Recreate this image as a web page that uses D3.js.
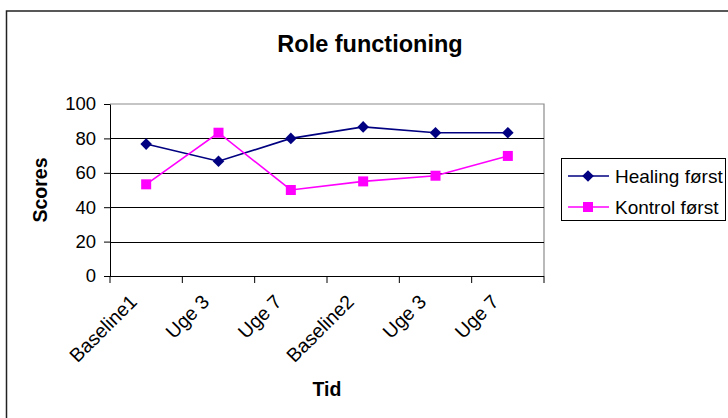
<!DOCTYPE html>
<html>
<head>
<meta charset="utf-8">
<script src="https://cdn.jsdelivr.net/npm/d3@7"></script>
<style>
  html, body { margin: 0; padding: 0; background: #fff; }
  svg { display: block; font-family: Arial, "Liberation Sans", sans-serif; }
</style>
</head>
<body>
<svg id="chart" width="728" height="418"></svg>
<script>
// Role functioning scores by time point
const categories = ["Baseline1", "Uge 3", "Uge 7", "Baseline2", "Uge 3", "Uge 7"];
const healingFirst = [76.7, 66.7, 80.0, 86.7, 83.3, 83.3];
const controlFirst = [53.3, 83.3, 50.0, 55.0, 58.3, 69.8];
const yTicks = [0, 20, 40, 60, 80, 100];
const seriesNames = ["Healing først", "Kontrol først"];

const svg = d3.select("#chart");
const plot = { left: 110, right: 544, top: 104, bottom: 276 };

// outer chart frame (extends past the right and bottom edges)
svg.append("rect")
  .attr("x", 6.5).attr("y", 11)
  .attr("width", 760).attr("height", 440)
  .attr("fill", "#fff")
  .attr("stroke", "#222").attr("stroke-width", 1.5);

const x = d3.scaleBand()
  .domain(d3.range(categories.length))
  .range([plot.left, plot.right])
  .paddingInner(0).paddingOuter(0);

const y = d3.scaleLinear().domain([0, 100]).range([plot.bottom, plot.top]);

// plot area border (top and right in grey)
svg.append("path")
  .attr("d", `M${plot.left},${plot.top}H${plot.right}V${plot.bottom}`)
  .attr("fill", "none").attr("stroke", "#8c8c8c").attr("stroke-width", 1.2);

// horizontal gridlines
svg.append("g")
  .selectAll("line")
  .data(yTicks.filter(t => t > 0 && t < 100))
  .join("line")
  .attr("x1", plot.left).attr("x2", plot.right)
  .attr("y1", d => Math.round(y(d)) + 0.5).attr("y2", d => Math.round(y(d)) + 0.5)
  .attr("stroke", "#000").attr("stroke-width", 1);

// y axis
const yAxis = svg.append("g")
  .attr("transform", `translate(${plot.left},0)`)
  .call(d3.axisLeft(y).tickValues(yTicks).tickSize(6).tickPadding(8).tickSizeOuter(0));
yAxis.select(".domain").attr("stroke", "#000");
yAxis.selectAll(".tick line").attr("stroke", "#000");
yAxis.selectAll(".tick text")
  .attr("font-size", 18.5).attr("fill", "#000")
  .attr("font-family", "Arial, 'Liberation Sans', sans-serif");

// x axis with ticks at category boundaries
const boundaries = d3.range(categories.length + 1).map(i => plot.left + i * x.bandwidth());
const xAxisG = svg.append("g");
xAxisG.append("line")
  .attr("x1", plot.left).attr("x2", plot.right)
  .attr("y1", plot.bottom + 0.5).attr("y2", plot.bottom + 0.5)
  .attr("stroke", "#000");
xAxisG.selectAll("line.tk")
  .data(boundaries)
  .join("line").attr("class", "tk")
  .attr("x1", d => d).attr("x2", d => d)
  .attr("y1", plot.bottom).attr("y2", plot.bottom + 7)
  .attr("stroke", "#000");

// rotated category labels
xAxisG.selectAll("text")
  .data(categories)
  .join("text")
  .attr("transform", (d, i) => {
    const cx = x(i) + x.bandwidth() / 2;
    return `translate(${cx - 8},${plot.bottom + 27}) rotate(-45)`;
  })
  .attr("text-anchor", "end")
  .attr("font-size", 19.5)
  .attr("fill", "#000")
  .text(d => d);

// series lines and markers
const line = d3.line()
  .x((d, i) => x(i) + x.bandwidth() / 2)
  .y(d => y(d));

svg.append("path")
  .datum(healingFirst)
  .attr("d", line)
  .attr("fill", "none").attr("stroke", "#000080").attr("stroke-width", 1.6);

svg.append("path")
  .datum(controlFirst)
  .attr("d", line)
  .attr("fill", "none").attr("stroke", "#ff00ff").attr("stroke-width", 1.6);

const diamond = s => `M0,${-s}L${s},0L0,${s}L${-s},0Z`;

svg.append("g").selectAll("path")
  .data(healingFirst)
  .join("path")
  .attr("transform", (d, i) => `translate(${x(i) + x.bandwidth() / 2},${y(d)})`)
  .attr("d", diamond(5.8))
  .attr("fill", "#000080");

svg.append("g").selectAll("rect")
  .data(controlFirst)
  .join("rect")
  .attr("x", (d, i) => x(i) + x.bandwidth() / 2 - 5)
  .attr("y", d => y(d) - 5)
  .attr("width", 10).attr("height", 10)
  .attr("fill", "#ff00ff");

// titles
svg.append("text")
  .attr("x", 370).attr("y", 52)
  .attr("text-anchor", "middle")
  .attr("font-size", 23.5).attr("font-weight", "bold")
  .text("Role functioning");

svg.append("text")
  .attr("x", (plot.left + plot.right) / 2).attr("y", 396)
  .attr("text-anchor", "middle")
  .attr("font-size", 19.5).attr("font-weight", "bold")
  .text("Tid");

svg.append("text")
  .attr("transform", `translate(46.5,${(plot.top + plot.bottom) / 2}) rotate(-90)`)
  .attr("text-anchor", "middle")
  .attr("font-size", 19.5).attr("font-weight", "bold")
  .text("Scores");

// legend
const legend = svg.append("g");
legend.append("rect")
  .attr("x", 561.5).attr("y", 158.5)
  .attr("width", 164).attr("height", 62)
  .attr("fill", "#fff").attr("stroke", "#000");

const legendRows = [
  { name: seriesNames[0], color: "#000080", shape: "diamond", y: 176 },
  { name: seriesNames[1], color: "#ff00ff", shape: "square", y: 207 }
];
const rows = legend.selectAll("g.row").data(legendRows).join("g").attr("class", "row");
rows.append("line")
  .attr("x1", 568).attr("x2", 609)
  .attr("y1", d => d.y).attr("y2", d => d.y)
  .attr("stroke", d => d.color).attr("stroke-width", 1.6);
rows.each(function(d) {
  const g = d3.select(this);
  if (d.shape === "diamond") {
    g.append("path").attr("transform", `translate(588,${d.y})`)
      .attr("d", diamond(5.8)).attr("fill", d.color);
  } else {
    g.append("rect").attr("x", 583).attr("y", d.y - 5)
      .attr("width", 10).attr("height", 10).attr("fill", d.color);
  }
});
rows.append("text")
  .attr("x", 615).attr("y", d => d.y + 6.5)
  .attr("font-size", 19).attr("fill", "#000")
  .text(d => d.name);
</script>
</body>
</html>
